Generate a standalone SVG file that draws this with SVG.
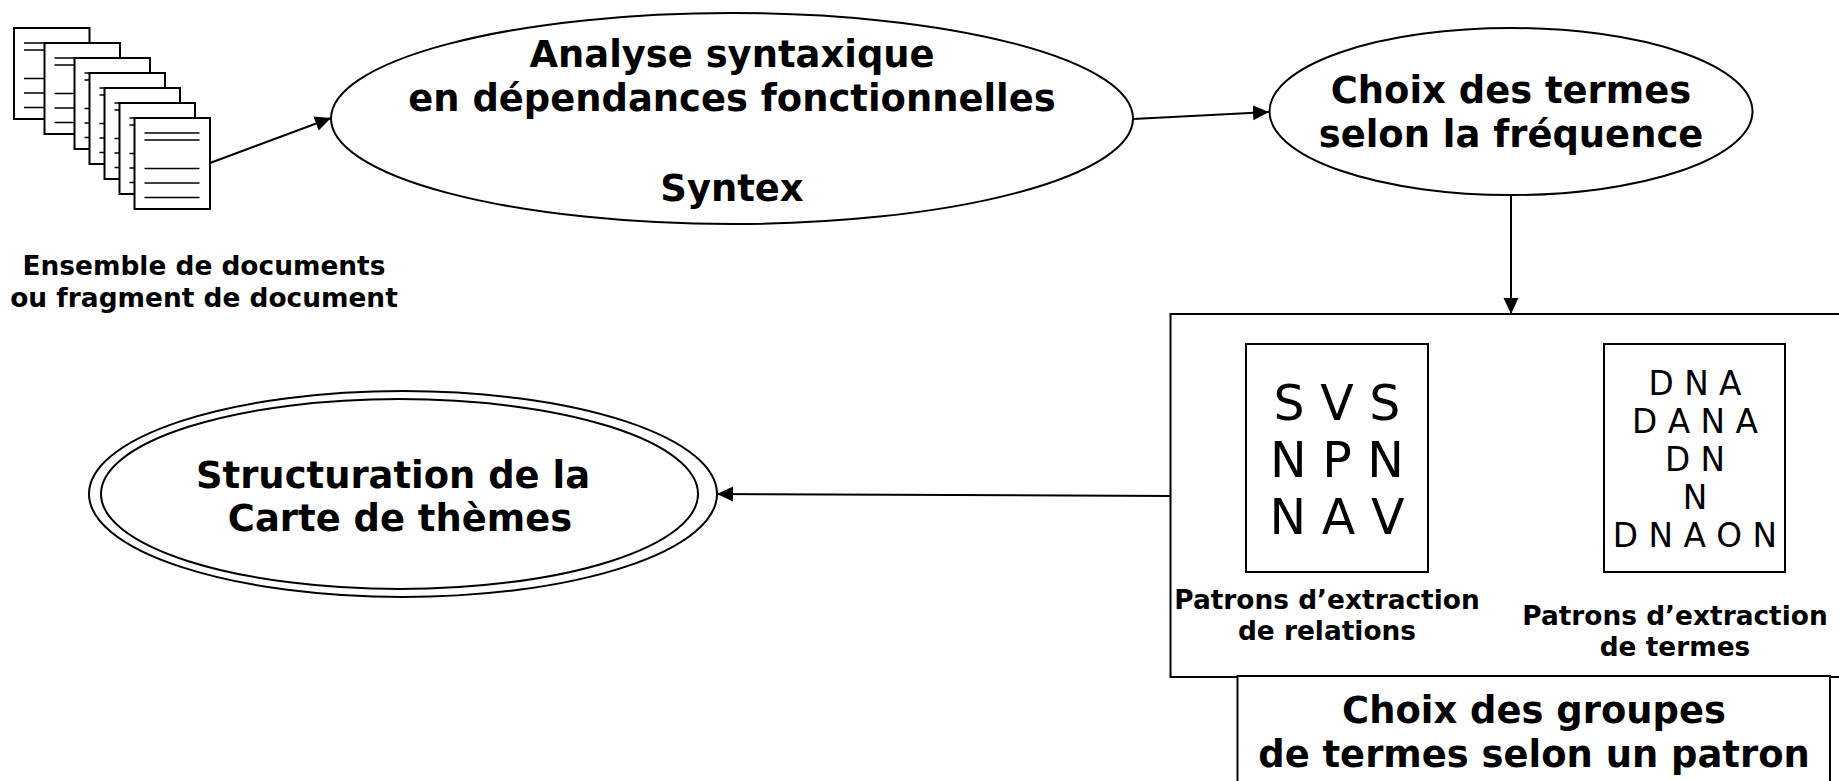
<svg xmlns="http://www.w3.org/2000/svg" width="1839" height="781" viewBox="0 0 1839 781">
<style>
text{font-family:"DejaVu Sans",sans-serif;fill:#000;text-anchor:middle}
.b{font-weight:bold}
.t1{font-size:36.900px}
.t2{font-size:26.400px}
.s{fill:#fff;stroke:#000;stroke-width:2}
.l{stroke:#000;stroke-width:1.700;fill:none}
.c{stroke:#000;stroke-width:2;fill:none;marker-end:url(#a)}
</style>
<defs>
<marker id="a" markerUnits="userSpaceOnUse" markerWidth="16" markerHeight="16" refX="16" refY="8" orient="auto"><path d="M0 0.500L16 8L0 15.500Z" fill="#000"/></marker>
<g id="p"><rect class="s" x="0" y="0" width="75.500" height="91"/><path class="l" d="M10 15H65M10 22H65M10 50.500H65M10 65H65M10 79.500H65"/></g>
</defs>
<g id="documents">
<use href="#p" x="14" y="28"/><use href="#p" x="44.500" y="43"/><use href="#p" x="74.500" y="58"/><use href="#p" x="89.500" y="73"/><use href="#p" x="104.500" y="88"/><use href="#p" x="119.500" y="103"/><use href="#p" x="134.500" y="118"/>
<text class="b t2" x="204" y="275">Ensemble de documents</text>
<text class="b t2" x="204" y="307">ou fragment de document</text>
</g>
<g id="analyse"><ellipse class="s" cx="732" cy="118.500" rx="401" ry="105.500"/>
<text class="b t1" x="732" y="67">Analyse syntaxique</text>
<text class="b t1" x="732" y="111">en dépendances fonctionnelles</text>
<text class="b t1" x="732" y="201">Syntex</text></g>
<g id="choix-termes"><ellipse class="s" cx="1511" cy="111.500" rx="241.500" ry="83.500"/>
<text class="b t1" x="1511" y="103">Choix des termes</text>
<text class="b t1" x="1511" y="147">selon la fréquence</text></g>
<g id="structuration"><ellipse class="s" cx="403" cy="494" rx="314" ry="103"/><ellipse class="s" cx="399.500" cy="494" rx="298.500" ry="95"/>
<text class="b t1" x="393" y="488">Structuration de la</text>
<text class="b t1" x="400" y="531">Carte de thèmes</text></g>
<g id="patrons">
<path d="M1839 314H1170.500V677H1839" class="s"/>
<rect class="s" x="1246" y="344" width="182" height="228"/>
<rect class="s" x="1604" y="344" width="181" height="228"/>
<g style="font-size:49px"><text x="1337" y="420">S V S</text><text x="1337" y="477">N P N</text><text x="1337" y="534">N A V</text></g>
<g style="font-size:32.800px"><text x="1695" y="395">D N A</text><text x="1695" y="433">D A N A</text><text x="1695" y="471">D N</text><text x="1695" y="509">N</text><text x="1695" y="547">D N A O N</text></g>
<text class="b t2" x="1327" y="609">Patrons d’extraction</text><text class="b t2" x="1327" y="640">de relations</text>
<text class="b t2" x="1675" y="625">Patrons d’extraction</text><text class="b t2" x="1675" y="656">de termes</text>
</g>
<g id="choix-groupes"><rect class="s" x="1237.500" y="676" width="592.500" height="120"/>
<text class="b t1" x="1534" y="723">Choix des groupes</text>
<text class="b t1" x="1534" y="767">de termes selon un patron</text></g>
<g id="connectors">
<line class="c" x1="210" y1="163" x2="331" y2="118"/>
<line class="c" x1="1133" y1="119" x2="1269" y2="112"/>
<line class="c" x1="1511" y1="195" x2="1511" y2="314"/>
<line class="c" x1="1170" y1="496" x2="717" y2="494"/>
</g>
</svg>
